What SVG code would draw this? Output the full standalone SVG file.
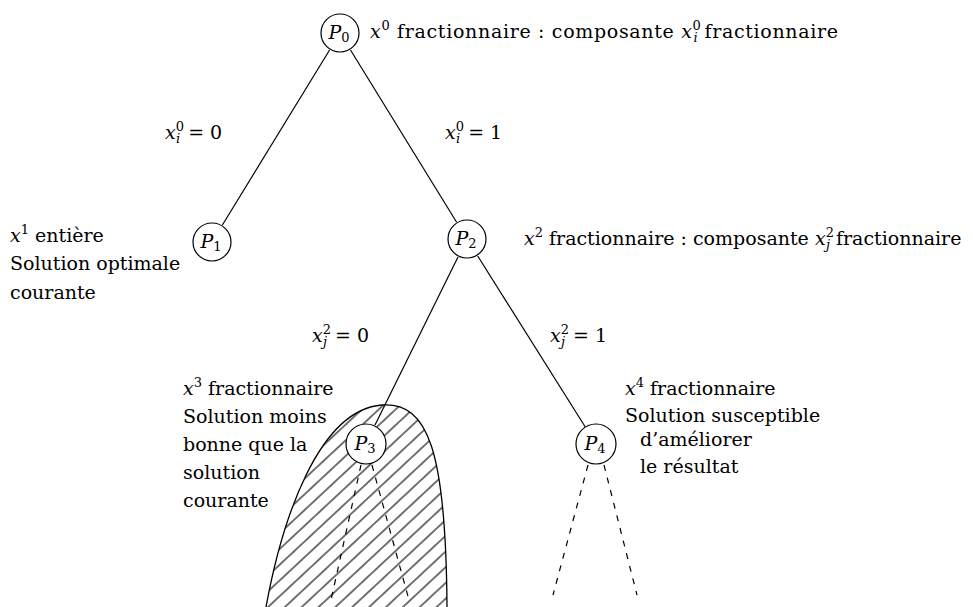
<svg xmlns="http://www.w3.org/2000/svg" width="973" height="607" viewBox="0 0 973 607">
<style>
  .t { font-family: "DejaVu Serif", "Liberation Serif", serif; font-size: 19px; fill: #000; }
  .m { font-style: italic; }
  .s { font-size: 13px; }
  .node circle { fill: #fff; stroke: #000; stroke-width: 1.2; }
  .edge { stroke: #000; stroke-width: 1.2; fill: none; }
  .dash { stroke: #000; stroke-width: 1.2; fill: none; stroke-dasharray: 6 7; }
  .region { fill: url(#hatch); stroke: #000; stroke-width: 1.3; }
</style>
<defs>
  <pattern id="hatch" patternUnits="userSpaceOnUse" width="11.5" height="11.5" patternTransform="rotate(47)">
    <line x1="5.75" y1="-2" x2="5.75" y2="14" stroke="#000" stroke-width="1.1"/>
  </pattern>
</defs>
<rect width="973" height="607" fill="#fff"/>

<g id="pruned-region">
  <path class="region" d="M 266 607 C 282 520 318 410 382 405 C 428 402 446 450 447 607"/>
</g>

<g id="connectors">
  <line class="edge" x1="329.6" y1="50" x2="222.4" y2="225"/>
  <line class="edge" x1="350.5" y1="50" x2="456.5" y2="222"/>
  <line class="edge" x1="458" y1="257" x2="375" y2="425"/>
  <line class="edge" x1="477.7" y1="256" x2="585.3" y2="427"/>
  <line class="dash" x1="361" y1="465" x2="331" y2="600"/>
  <line class="dash" x1="372" y1="465" x2="409" y2="600"/>
  <line class="dash" x1="588" y1="465" x2="553" y2="595"/>
  <line class="dash" x1="604" y1="465" x2="637" y2="595"/>
</g>

<g id="node-P0" class="node">
  <circle cx="340" cy="33" r="19"/>
  <text class="t" x="339" y="39" text-anchor="middle"><tspan class="m">P</tspan><tspan class="s" dy="3">0</tspan></text>
</g>
<g id="node-P1" class="node">
  <circle cx="212" cy="242" r="19"/>
  <text class="t" x="211" y="248" text-anchor="middle"><tspan class="m">P</tspan><tspan class="s" dy="3">1</tspan></text>
</g>
<g id="node-P2" class="node">
  <circle cx="467" cy="239" r="19"/>
  <text class="t" x="466" y="245" text-anchor="middle"><tspan class="m">P</tspan><tspan class="s" dy="3">2</tspan></text>
</g>
<g id="node-P3" class="node">
  <circle cx="366" cy="444" r="20"/>
  <text class="t" x="365" y="450" text-anchor="middle"><tspan class="m">P</tspan><tspan class="s" dy="3">3</tspan></text>
</g>
<g id="node-P4" class="node">
  <circle cx="596" cy="444" r="20"/>
  <text class="t" x="595" y="450" text-anchor="middle"><tspan class="m">P</tspan><tspan class="s" dy="3">4</tspan></text>
</g>

<g id="edge-labels">
  <text class="t" x="165" y="139"><tspan class="m">x</tspan><tspan class="s" dy="-8">0</tspan><tspan class="s m" dx="-8" dy="12">i</tspan><tspan dx="8" dy="-4">=</tspan><tspan dx="6">0</tspan></text>
  <text class="t" x="445" y="139"><tspan class="m">x</tspan><tspan class="s" dy="-8">0</tspan><tspan class="s m" dx="-8" dy="12">i</tspan><tspan dx="8" dy="-4">=</tspan><tspan dx="6">1</tspan></text>
  <text class="t" x="312" y="342"><tspan class="m">x</tspan><tspan class="s" dy="-8">2</tspan><tspan class="s m" dx="-8" dy="12">j</tspan><tspan dx="8" dy="-4">=</tspan><tspan dx="6">0</tspan></text>
  <text class="t" x="550" y="342"><tspan class="m">x</tspan><tspan class="s" dy="-8">2</tspan><tspan class="s m" dx="-8" dy="12">j</tspan><tspan dx="8" dy="-4">=</tspan><tspan dx="6">1</tspan></text>
</g>

<g id="annotations">
  <text class="t" x="370" y="38" textLength="468" lengthAdjust="spacing"><tspan class="m">x</tspan><tspan class="s" dy="-8">0</tspan><tspan dy="8"> fractionnaire : composante </tspan><tspan class="m">x</tspan><tspan class="s" dy="-8">0</tspan><tspan class="s m" dx="-8" dy="12">i</tspan><tspan dx="6" dy="-4">fractionnaire</tspan></text>
  <text class="t" x="524" y="245"><tspan class="m">x</tspan><tspan class="s" dy="-8">2</tspan><tspan dy="8"> fractionnaire : composante </tspan><tspan class="m">x</tspan><tspan class="s" dy="-8">2</tspan><tspan class="s m" dx="-8" dy="12">j</tspan><tspan dx="6" dy="-4">fractionnaire</tspan></text>

  <text class="t" x="10" y="242"><tspan class="m">x</tspan><tspan class="s" dy="-8">1</tspan><tspan dy="8"> entière</tspan></text>
  <text class="t" x="10" y="270">Solution optimale</text>
  <text class="t" x="10" y="299">courante</text>

  <text class="t" x="183" y="395"><tspan class="m">x</tspan><tspan class="s" dy="-8">3</tspan><tspan dy="8"> fractionnaire</tspan></text>
  <text class="t" x="183" y="423">Solution moins</text>
  <text class="t" x="183" y="451">bonne que la</text>
  <text class="t" x="183" y="479">solution</text>
  <text class="t" x="183" y="507">courante</text>

  <text class="t" x="625" y="395"><tspan class="m">x</tspan><tspan class="s" dy="-8">4</tspan><tspan dy="8"> fractionnaire</tspan></text>
  <text class="t" x="625" y="422">Solution susceptible</text>
  <text class="t" x="640" y="446">d’améliorer</text>
  <text class="t" x="640" y="473">le résultat</text>
</g>
</svg>
